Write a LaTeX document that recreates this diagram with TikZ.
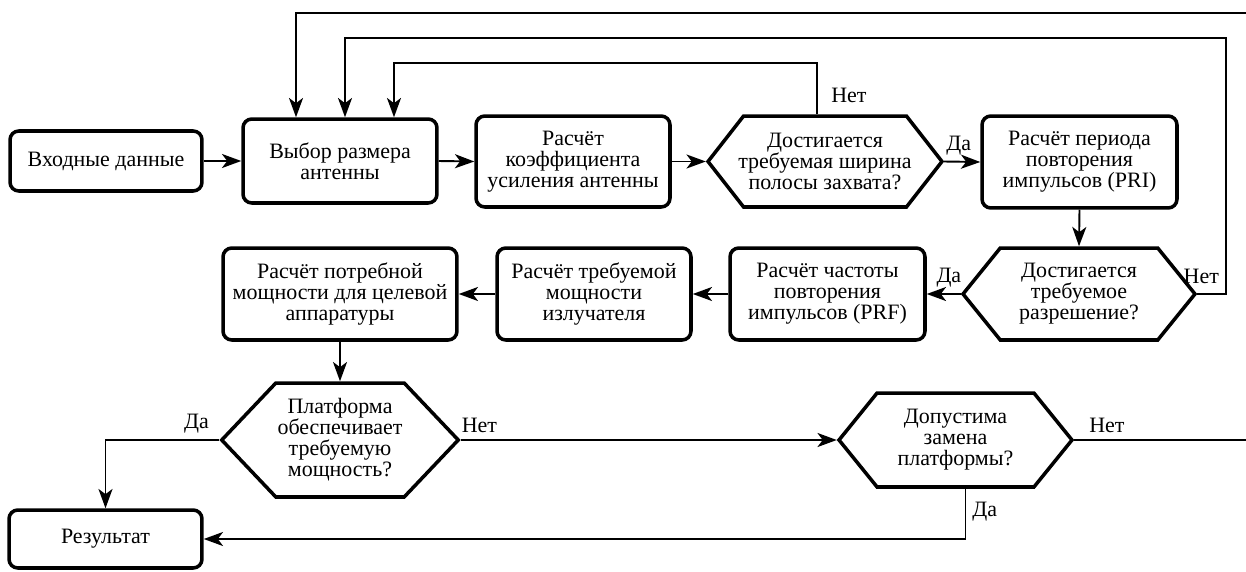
\documentclass[tikz,border=0pt]{standalone}
\usepackage{fontspec}
\setmainfont{LiberationSerif}[Extension=.ttf, UprightFont=*-Regular, BoldFont=*-Bold, ItalicFont=*-Italic, BoldItalicFont=*-BoldItalic]
\usetikzlibrary{shapes.symbols, arrows.meta, positioning}

\begin{document}
\begin{tikzpicture}[x=0.02cm, y=-0.02cm,
			font=\rmfamily\fontsize{12.5}{11.9}\selectfont,
			block/.style={draw, rectangle, rounded corners=5pt, line width=2pt, align=center, minimum width=3.88cm, minimum height=1.84cm, inner sep=2pt},
			decision/.style={draw, signal, signal to=east and west, line width=2pt, align=center, minimum width=4.68cm, minimum height=1.84cm, inner sep=1pt},
			line/.style={line width=1.1pt, -{Stealth[length=11pt, width=8pt, inset=3pt]}},
			plain/.style={line width=1.1pt}
			]
			\useasboundingbox (0,0) rectangle (1246,571);
			
			\node [block, minimum width=3.84cm, minimum height=1.2cm](input) at (106,161) {Входные данные};
			\node [block, minimum height=1.68cm](size) at (340,161) {Выбор размера\\антенны};
			\node [block, minimum height=1.82cm](gain) at (573,161.5) {Расчёт\\коэффициента\\усиления антенны};
			\node [decision, minimum height=1.82cm, inner xsep=-3pt, signal pointer angle=104](swath) at (825,161.5) {Достигается\\требуемая ширина\\полосы захвата?};
			\node [block, minimum width=3.9cm](pri) at (1079.5,162) {Расчёт периода\\повторения\\импульсов (PRI)};
			
			\node [decision, minimum width=4.64cm, signal pointer angle=102](resol) at (1079,294) {Достигается\\требуемое\\разрешение?};
			\node [block, minimum width=3.9cm](prf) at (827.5,294) {Расчёт частоты\\повторения\\импульсов (PRF)};
			\node [block](txpow) at (594,294) {Расчёт требуемой\\мощности\\излучателя};
			\node [block, minimum width=4.68cm](need) at (340,294) {Расчёт потребной\\мощности для целевой\\аппаратуры};
			
			\node [decision, minimum height=2.28cm, signal pointer angle=93](platf) at (340,440) {Платформа\\обеспечивает\\требуемую\\мощность?};
			\node [decision, minimum width=4.66cm, minimum height=1.88cm, signal pointer angle=102](swap) at (955.5,440) {Допустима\\замена\\платформы?};
			\node [block, minimum width=3.86cm, minimum height=1.16cm](result) at (105.5,539) {Результат};
			
			\coordinate (outerR) at (1246,13);
			\coordinate (swapR) at (1246,440);
			
			\draw[line] (input.east) -- (size.west);
			\draw[line] (size.east) -- (gain.west);
			\draw[line] (gain.east) -- (swath.west);
			\draw[line] (swath.east) -- node[above, pos=.4] {Да} (pri.west);
			\draw[line] (pri.south) -- (resol.north);
			\draw[line] (resol.west) -- node[above, pos=.35] {Да} (prf.east);
			\draw[line] (prf.west) -- (txpow.east);
			\draw[line] (txpow.west) -- (need.east);
			\draw[line] (need.south) -- (platf.north);
			
			\draw[line] (platf.west) -| node[above, pos=.1] {Да} (result.north);
			\draw[line] (platf.east) -- node[above, pos=.05] {Нет} (swap.west);
			\draw[line] ([xshift=0.2cm]swap.south) |- node[right, pos=.23] {Да} (result.east);
			\draw[plain] (swap.east) -- node[above, pos=.19] {Нет} (swapR);
			
			% loops back to the antenna size
			\draw[line] ([xshift=-0.16cm]swath.north) -- node[right, pos=.37, xshift=0.15cm] {Нет} ++(0,-51) -| ([xshift=1.08cm]size.north);
			\draw[line] (resol.east) -- node[above, pos=.14, yshift=2pt] {Нет} ++(29,0) -- ++(0,-256) -| ([xshift=0.1cm]size.north);
			\draw[line] (outerR) -| ([xshift=-0.88cm]size.north);
		\end{tikzpicture}
\end{document}
